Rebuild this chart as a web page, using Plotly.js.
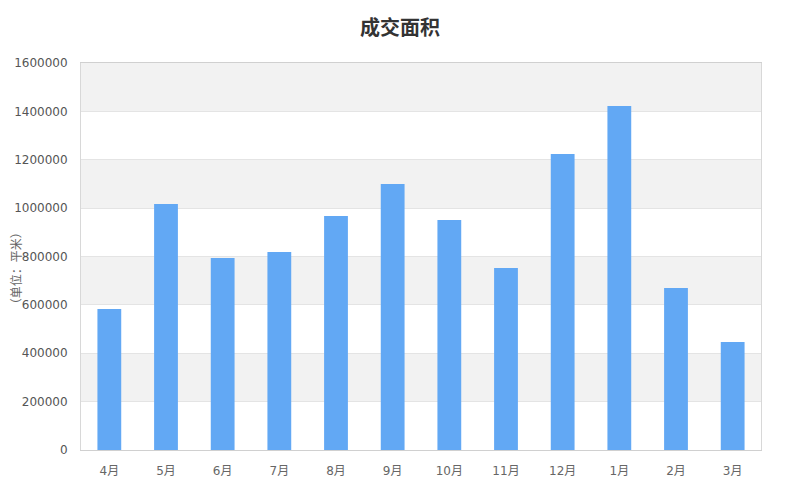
<!DOCTYPE html>
<html>
<head>
<meta charset="utf-8">
<script src="https://cdn.plot.ly/plotly-3.0.1.min.js"></script>
<style>html,body{margin:0;padding:0;background:#fff;}#chart{width:800px;height:500px;}</style>
</head>
<body>
<div id="chart"></div>
<script>
const months = ['4月','5月','6月','7月','8月','9月','10月','11月','12月','1月','2月','3月'];
const area = [583000, 1017000, 794000, 819000, 967000, 1100000, 951000, 752000, 1224000, 1422000, 670000, 447000];
const yTicks = [0, 200000, 400000, 600000, 800000, 1000000, 1200000, 1400000, 1600000];

const shapes = [];
for (let i = 1; i < yTicks.length; i += 2) {
  shapes.push({type:'rect', xref:'paper', yref:'y', x0:0, x1:1, y0:yTicks[i], y1:yTicks[i+1],
    fillcolor:'#f2f2f2', line:{width:0}, layer:'below'});
}

const trace = {
  type:'bar', x: months, y: area,
  marker:{color:'#62a8f4', line:{width:0}},
  hoverinfo:'x+y'
};

const layout = {
  width:800, height:500,
  margin:{l:81, r:39, t:63, b:50},
  paper_bgcolor:'#fff', plot_bgcolor:'rgba(0,0,0,0)',
  title:{text:'<b>成交面积</b>', x:0.5, xanchor:'center', y:0.945, yanchor:'middle',
    font:{family:'Noto Sans CJK SC, sans-serif', size:20, color:'#333'}},
  bargap:0.58,
  showlegend:false,
  shapes: shapes,
  xaxis:{type:'category', showgrid:false, zeroline:false, showline:true, linecolor:'#d0d0d0', linewidth:1,
    mirror:true, ticks:'', ticklabelstandoff:10,
    tickfont:{family:'DejaVu Sans, Noto Sans CJK SC, sans-serif', size:12, color:'#666'}},
  yaxis:{range:[0,1600000], tickvals:yTicks, ticktext:yTicks.map(String), showgrid:true, gridcolor:'#e4e4e4',
    zeroline:false, showline:true, linecolor:'#d8d8d8', mirror:true, ticks:'', ticklabelstandoff:10,
    tickfont:{family:'DejaVu Sans, sans-serif', size:12, color:'#555'}},
  annotations:[{text:'（单位：平米）', xref:'paper', yref:'paper', x:-0.097, y:0.47, xanchor:'center', yanchor:'middle',
    textangle:-90, showarrow:false, font:{family:'Noto Sans CJK SC, sans-serif', size:12, color:'#666'}}]
};

Plotly.newPlot('chart', [trace], layout, {displayModeBar:false, staticPlot:true});
</script>
</body>
</html>
